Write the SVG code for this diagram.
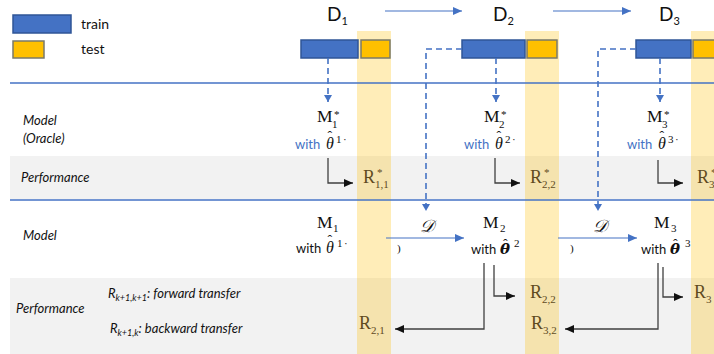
<svg xmlns="http://www.w3.org/2000/svg" width="714" height="354" viewBox="0 0 714 354">
<style>
.lbl{font-family:Lato,"Liberation Sans",sans-serif;font-style:italic;font-size:13px;fill:#111}
.sans{font-family:Lato,"Liberation Sans",sans-serif;fill:#111}
.M{font-family:"Liberation Serif","DejaVu Serif",serif;font-size:17.5px;fill:#111}
.R{font-family:"Liberation Serif","DejaVu Serif",serif;font-size:18px;fill:#5F4B1E}
.s{font-family:"Liberation Serif","DejaVu Serif",serif;font-size:11px;font-style:normal;font-weight:normal}
.with{font-family:Lato,"Liberation Sans",sans-serif;font-size:13px}
.th{font-family:"Liberation Serif","DejaVu Serif",serif;font-style:italic;font-size:16px;fill:#111}
.TH{font-family:"DejaVu Serif","Liberation Serif",serif;font-style:italic;font-weight:bold;font-size:15px;fill:#111}
.hat{font-family:"Liberation Serif","DejaVu Serif",serif;font-style:normal;font-weight:normal;font-size:14px;fill:#111}
.blue{fill:#4472C4}
.blk{fill:#111}
.train{fill:#4472C4;stroke:#2F5597;stroke-width:1.5}
.test{fill:#FFC000;stroke:#7A7A6A;stroke-width:1.5}
.band{fill:#FFC000;fill-opacity:0.28}
.gray{fill:#F2F2F2}
.sep{stroke:#4472C4;stroke-width:1.5}
.dash{stroke:#4472C4;stroke-width:1.6;stroke-dasharray:6 4;fill:none}
.flow{stroke:#4472C4;stroke-width:1.2;fill:none}
.conn{stroke:#404040;stroke-width:1.3;fill:none}
</style>
<defs>
<marker id="ab" markerUnits="userSpaceOnUse" markerWidth="10" markerHeight="8" refX="9" refY="4" orient="auto"><path d="M0,0 L9,4 L0,8 z" fill="#4472C4"/></marker>
<marker id="ad" markerUnits="userSpaceOnUse" markerWidth="8" markerHeight="8" refX="7" refY="4" orient="auto"><path d="M0,0 L7,4 L0,8 z" fill="#4472C4"/></marker>
<marker id="ak" markerUnits="userSpaceOnUse" markerWidth="10" markerHeight="8" refX="9" refY="4" orient="auto"><path d="M0,0 L9,4 L0,8 z" fill="#111"/></marker>
</defs>

<g id="background">
<rect class="gray" x="10" y="156" width="704" height="43"/>
<rect class="gray" x="10" y="278" width="704" height="76"/>
<rect class="band" x="357" y="31" width="34" height="323"/>
<rect class="band" x="525" y="31" width="34" height="323"/>
<rect class="band" x="691" y="31" width="34" height="323"/>
<line class="sep" x1="10" y1="83" x2="714" y2="83"/>
<line class="sep" x1="10" y1="200" x2="714" y2="200"/>
</g>

<g id="legend">
<rect class="train" x="13" y="15" width="58" height="18"/>
<text class="sans" x="81" y="29" font-size="14">train</text>
<rect class="test" x="13" y="41" width="31" height="17"/>
<text class="sans" x="81" y="54" font-size="14">test</text>
</g>

<g id="row-labels">
<text class="lbl" x="23" y="125">Model</text>
<text class="lbl" x="23" y="143">(Oracle)</text>
<text class="lbl" x="21" y="182">Performance</text>
<text class="lbl" x="23" y="240">Model</text>
<text class="lbl" x="16" y="313">Performance</text>
<text class="lbl" x="108" y="298">R<tspan font-size="9" dy="3">k+1,k+1</tspan><tspan dy="-3">: forward transfer</tspan></text>
<text class="lbl" x="110" y="333">R<tspan font-size="9" dy="3">k+1,k</tspan><tspan dy="-3">: backward transfer</tspan></text>
</g>

<g id="D1">
<text class="sans" x="327" y="21" font-size="19">D<tspan font-size="11" dy="4">1</tspan></text>
<rect class="train" x="301" y="40" width="57" height="18"/>
<rect class="test" x="361" y="40" width="29" height="18"/>
</g>
<g id="D2">
<text class="sans" x="493" y="21" font-size="19">D<tspan font-size="11" dy="4">2</tspan></text>
<rect class="train" x="462" y="40" width="63" height="18"/>
<rect class="test" x="527" y="40" width="30" height="18"/>
</g>
<g id="D3">
<text class="sans" x="659" y="21" font-size="19">D<tspan font-size="11" dy="4">3</tspan></text>
<rect class="train" x="636" y="40" width="55" height="18"/>
<rect class="test" x="693" y="40" width="30" height="18"/>
</g>

<g id="Mstar1">
<text class="M" x="317" y="122">M<tspan class="s" x="332" dy="6">1</tspan><tspan class="s" x="334" dy="-10">*</tspan></text>
<text class="with blue" x="295" y="149">with<tspan class="th" x="326">θ</tspan><tspan class="hat" x="327.5" y="141">ˆ</tspan><tspan class="s blk" font-size="10" x="336" y="143">1</tspan><tspan class="s blk" x="343">·</tspan></text>
</g>
<g id="Mstar2">
<text class="M" x="484" y="122">M<tspan class="s" x="499" dy="6">2</tspan><tspan class="s" x="501" dy="-10">*</tspan></text>
<text class="with blue" x="464" y="149">with<tspan class="th" x="495">θ</tspan><tspan class="hat" x="496.5" y="141">ˆ</tspan><tspan class="s blk" font-size="10" x="505" y="143">2</tspan><tspan class="s blk" x="512">·</tspan></text>
</g>
<g id="Mstar3">
<text class="M" x="647" y="122">M<tspan class="s" x="662" dy="6">3</tspan><tspan class="s" x="664" dy="-10">*</tspan></text>
<text class="with blue" x="627" y="149">with<tspan class="th" x="658">θ</tspan><tspan class="hat" x="659.5" y="141">ˆ</tspan><tspan class="s blk" font-size="10" x="668" y="143">3</tspan><tspan class="s blk" x="675">·</tspan></text>
</g>

<g id="Rstar11">
<text class="R" x="363" y="183">R<tspan class="s" x="375" dy="5">1,1</tspan><tspan class="s" x="377" dy="-12">*</tspan></text>
</g>
<g id="Rstar22">
<text class="R" x="530" y="183">R<tspan class="s" x="542" dy="5">2,2</tspan><tspan class="s" x="544" dy="-12">*</tspan></text>
</g>
<g id="Rstar33">
<text class="R" x="697" y="183">R<tspan class="s" x="709" dy="5">3</tspan><tspan class="s" x="711" dy="-12">*</tspan></text>
</g>

<g id="M1">
<text class="M" x="317" y="228">M<tspan class="s" x="333" dy="4">1</tspan></text>
<text class="with blk" x="296" y="253">with<tspan class="th" x="326">θ</tspan><tspan class="hat" x="327.5" y="245">ˆ</tspan><tspan class="s" font-size="10" x="337" y="247">1</tspan><tspan class="s" x="344">·</tspan></text>
</g>
<g id="M2">
<text class="M" x="483" y="228">M<tspan class="s" x="500" dy="4">2</tspan></text>
<text class="with blk" x="471" y="254">with<tspan class="TH" x="500">θ</tspan><tspan class="hat" x="503" y="249" font-size="16">ˆ</tspan><tspan class="s" x="514" y="247">2</tspan></text>
</g>
<g id="M3">
<text class="M" x="654" y="228">M<tspan class="s" x="671" dy="4">3</tspan></text>
<text class="with blk" x="641" y="254">with<tspan class="TH" x="670">θ</tspan><tspan class="hat" x="673" y="249" font-size="16">ˆ</tspan><tspan class="s" x="685" y="247">3</tspan></text>
</g>

<g id="transfer-labels">
<text class="M" x="420" y="232" font-size="17" font-style="italic" font-family="DejaVu Serif, serif">𝒟</text>
<text class="s blk" x="397" y="252">)</text>
<text class="M" x="593" y="232" font-size="17" font-style="italic" font-family="DejaVu Serif, serif">𝒟</text>
<text class="s blk" x="570" y="252">)</text>
</g>

<g id="R21"><text class="R" x="359" y="329">R<tspan class="s" x="371" dy="5">2,1</tspan></text></g>
<g id="R22"><text class="R" x="530" y="298">R<tspan class="s" x="542" dy="5">2,2</tspan></text></g>
<g id="R32"><text class="R" x="531" y="329">R<tspan class="s" x="543" dy="5">3,2</tspan></text></g>
<g id="R33"><text class="R" x="694" y="298">R<tspan class="s" x="706" dy="5">3</tspan></text></g>

<g id="connectors">
<line class="flow" x1="385" y1="11" x2="462" y2="11" marker-end="url(#ab)"/>
<line class="flow" x1="553" y1="11" x2="631" y2="11" marker-end="url(#ab)"/>
<line class="dash" x1="328" y1="58" x2="328" y2="102" marker-end="url(#ad)"/>
<line class="dash" x1="496" y1="58" x2="496" y2="102" marker-end="url(#ad)"/>
<line class="dash" x1="660" y1="58" x2="660" y2="102" marker-end="url(#ad)"/>
<path class="dash" d="M462,49 H426 V211" marker-end="url(#ad)"/>
<path class="dash" d="M636,49 H598 V211" marker-end="url(#ad)"/>
<path class="conn" d="M328,158 V183 H353" marker-end="url(#ak)"/>
<path class="conn" d="M495,158 V183 H520" marker-end="url(#ak)"/>
<path class="conn" d="M658,160 V183 H683" marker-end="url(#ak)"/>
<line class="flow" x1="386" y1="238" x2="464" y2="238" marker-end="url(#ab)"/>
<line class="flow" x1="558" y1="238" x2="637" y2="238" marker-end="url(#ab)"/>
<path class="conn" d="M484,263 V329 H395" marker-end="url(#ak)"/>
<path class="conn" d="M494,265 V296 H515" marker-end="url(#ak)"/>
<path class="conn" d="M658,263 V329 H565" marker-end="url(#ak)"/>
<path class="conn" d="M663,267 V297 H683" marker-end="url(#ak)"/>
</g>
</svg>
